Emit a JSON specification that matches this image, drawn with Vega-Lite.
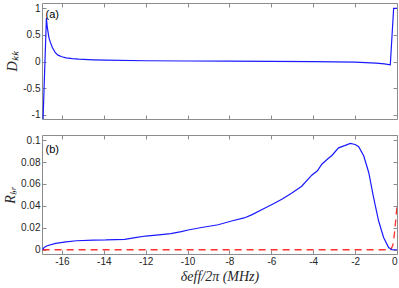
{
  "$schema": "https://vega.github.io/schema/vega-lite/v6.json",
  "autosize": {"type": "pad"},
  "padding": {"left": 3, "top": 2, "right": 0, "bottom": 0},
  "background": "white",
  "bounds": "flush",
  "spacing": 16,
  "config": {
    "view": {"stroke": "#8c8c8c", "strokeWidth": 1},
    "axis": {
      "labelFont": "Liberation Sans", "labelFontSize": 10, "labelColor": "#262626",
      "labelExpr": "'' + datum.value",
      "domain": false, "grid": false, "tickColor": "#8c8c8c", "tickSize": -4,
      "labelPadding": 6, "titleFont": "Liberation Serif", "titleFontStyle": "italic",
      "titleFontWeight": "normal", "titleFontSize": 14, "titleColor": "#262626"
    }
  },
  "datasets": {
    "dkk": [
      {"x": -16.9, "y": -1.09}, {"x": -16.74, "y": 0.82}, {"x": -16.7, "y": 0.65},
      {"x": -16.62, "y": 0.45}, {"x": -16.55, "y": 0.36}, {"x": -16.45, "y": 0.26},
      {"x": -16.32, "y": 0.17}, {"x": -16.19, "y": 0.12}, {"x": -16.0, "y": 0.09},
      {"x": -15.8, "y": 0.07}, {"x": -15.5, "y": 0.055}, {"x": -15.2, "y": 0.045},
      {"x": -14.5, "y": 0.032}, {"x": -13.9, "y": 0.025}, {"x": -12, "y": 0.015},
      {"x": -10, "y": 0.01}, {"x": -8, "y": 0.006}, {"x": -6, "y": 0.003},
      {"x": -4, "y": 0.0}, {"x": -3, "y": -0.005}, {"x": -2, "y": -0.012},
      {"x": -1, "y": -0.03}, {"x": -0.6, "y": -0.045}, {"x": -0.32, "y": -0.06},
      {"x": -0.16, "y": 1.0}, {"x": 0, "y": 1.0}
    ],
    "rlr": [
      {"x": -16.92, "y": 0.0}, {"x": -16.85, "y": 0.002}, {"x": -16.7, "y": 0.0036},
      {"x": -16.3, "y": 0.0058}, {"x": -15.8, "y": 0.0072}, {"x": -15.3, "y": 0.0082},
      {"x": -14.5, "y": 0.0088}, {"x": -13.9, "y": 0.0089}, {"x": -13, "y": 0.0095},
      {"x": -12.5, "y": 0.011}, {"x": -12, "y": 0.0125}, {"x": -11.5, "y": 0.0134},
      {"x": -10.8, "y": 0.0147}, {"x": -10.3, "y": 0.0165}, {"x": -9.97, "y": 0.018},
      {"x": -9.33, "y": 0.0203}, {"x": -8.54, "y": 0.0228}, {"x": -7.9, "y": 0.0262},
      {"x": -7.3, "y": 0.029}, {"x": -6.94, "y": 0.0318}, {"x": -6.3, "y": 0.038},
      {"x": -5.9, "y": 0.042}, {"x": -5.5, "y": 0.046}, {"x": -5.0, "y": 0.052},
      {"x": -4.55, "y": 0.058}, {"x": -4.07, "y": 0.068}, {"x": -3.8, "y": 0.072},
      {"x": -3.59, "y": 0.078}, {"x": -3.3, "y": 0.083}, {"x": -3.11, "y": 0.086},
      {"x": -2.79, "y": 0.093}, {"x": -2.5, "y": 0.095}, {"x": -2.23, "y": 0.097},
      {"x": -2.0, "y": 0.096}, {"x": -1.83, "y": 0.094}, {"x": -1.59, "y": 0.0857},
      {"x": -1.35, "y": 0.0705}, {"x": -1.12, "y": 0.0477}, {"x": -0.88, "y": 0.0264},
      {"x": -0.64, "y": 0.0112}, {"x": -0.4, "y": 0.002}, {"x": -0.24, "y": 0.0},
      {"x": 0, "y": 0.0}
    ],
    "red": [
      {"x": -16.92, "y": 0.0}, {"x": -0.3, "y": 0.0}, {"x": -0.2, "y": 0.004},
      {"x": -0.12, "y": 0.015}, {"x": -0.06, "y": 0.027}, {"x": 0, "y": 0.04}
    ],
    "lab_a": [{"x": -16.78, "y": 0.875, "t": "(a)"}],
    "lab_b": [{"x": -16.78, "y": 0.0908, "t": "(b)"}]
  },
  "vconcat": [
    {
      "width": 355,
      "height": 116,
      "resolve": {"axis": {"x": "independent", "y": "independent"}},
      "layer": [
        {
          "mark": {"type": "rule", "color": "#8c8c8c", "strokeWidth": 1},
          "encoding": {"y": {"datum": 0, "type": "quantitative", "scale": {"domain": [-1.08, 1.1]}, "axis": null}}
        },
        {
          "data": {"name": "dkk"},
          "mark": {"type": "line", "color": "#1a1aff", "strokeWidth": 1.2, "clip": true},
          "encoding": {
            "x": {"field": "x", "type": "quantitative", "scale": {"domain": [-16.95, 0], "nice": false, "zero": false},
                  "axis": {"values": [-16,-14,-12,-10,-8,-6,-4,-2,0], "labels": false, "title": null}},
            "y": {"field": "y", "type": "quantitative", "scale": {"domain": [-1.08, 1.1], "nice": false},
                  "axis": {"values": [-1,-0.5,0,0.5,1], "title": "Dₖₖ", "titlePadding": 3}}
          }
        },
        {
          "data": {"name": "dkk"},
          "mark": {"type": "line", "opacity": 0},
          "encoding": {
            "x": {"field": "x", "type": "quantitative", "scale": {"domain": [-16.95, 0], "nice": false, "zero": false},
                  "axis": {"orient": "top", "values": [-16,-14,-12,-10,-8,-6,-4,-2,0], "labels": false, "title": null}},
            "y": {"field": "y", "type": "quantitative", "scale": {"domain": [-1.08, 1.1], "nice": false},
                  "axis": {"orient": "right", "values": [-1,-0.5,0,0.5,1], "labels": false, "title": null}}
          }
        },
        {
          "data": {"name": "lab_a"},
          "mark": {"type": "text", "align": "left", "baseline": "middle", "font": "Liberation Sans", "fontSize": 11, "color": "#000000"},
          "encoding": {
            "x": {"field": "x", "type": "quantitative", "axis": null},
            "y": {"field": "y", "type": "quantitative", "axis": null},
            "text": {"field": "t"}
          }
        }
      ]
    },
    {
      "width": 355,
      "height": 119,
      "resolve": {"axis": {"x": "independent", "y": "independent"}},
      "layer": [
        {
          "data": {"name": "red"},
          "mark": {"type": "line", "color": "#ff3030", "strokeWidth": 1.3, "strokeDash": [7, 5], "clip": true},
          "encoding": {
            "x": {"field": "x", "type": "quantitative", "scale": {"domain": [-16.95, 0], "nice": false, "zero": false},
                  "axis": {"values": [-16,-14,-12,-10,-8,-6,-4,-2,0], "title": "δeff/2π (MHz)", "titlePadding": 3}},
            "y": {"field": "y", "type": "quantitative", "scale": {"domain": [-0.0039, 0.1047], "nice": false},
                  "axis": {"values": [0,0.02,0.04,0.06,0.08,0.1], "title": "Rₗ,ᵣ", "titlePadding": 3}}
          }
        },
        {
          "data": {"name": "rlr"},
          "mark": {"type": "line", "color": "#1a1aff", "strokeWidth": 1.2, "clip": true},
          "encoding": {
            "x": {"field": "x", "type": "quantitative", "axis": {"orient": "top", "values": [-16,-14,-12,-10,-8,-6,-4,-2,0], "labels": false, "title": null}},
            "y": {"field": "y", "type": "quantitative", "axis": {"orient": "right", "values": [0,0.02,0.04,0.06,0.08,0.1], "labels": false, "title": null}}
          }
        },
        {
          "data": {"name": "lab_b"},
          "mark": {"type": "text", "align": "left", "baseline": "middle", "font": "Liberation Sans", "fontSize": 11, "color": "#000000"},
          "encoding": {
            "x": {"field": "x", "type": "quantitative", "axis": null},
            "y": {"field": "y", "type": "quantitative", "axis": null},
            "text": {"field": "t"}
          }
        }
      ]
    }
  ]
}
